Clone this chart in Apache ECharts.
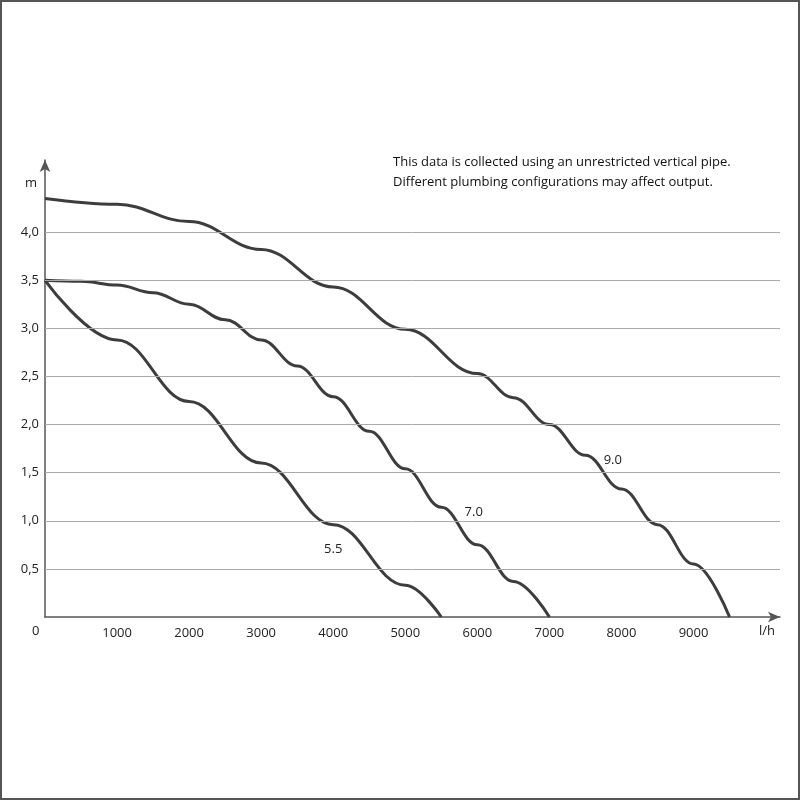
<!DOCTYPE html>
<html><head><meta charset="utf-8">
<script src="https://cdn.jsdelivr.net/npm/echarts@6/dist/echarts.min.js"></script>
<style>
html,body{margin:0;padding:0;background:#fff;}
#frame{position:absolute;left:0;top:0;width:796px;height:796px;border:2px solid #555;}
#chart{width:796px;height:796px;}
</style></head>
<body><div id="frame"><div id="chart"></div></div>
<script>
// pump curves (flow l/h, head m)
var curve55 = [[0,3.5],[1000,2.88],[2000,2.24],[3000,1.6],[4000,0.96],[5000,0.33],[5500,0]];
var curve70 = [[0,3.5],[500,3.49],[1000,3.45],[1500,3.37],[2000,3.25],[2500,3.09],[3000,2.88],[3500,2.61],[4000,2.29],[4500,1.93],[5000,1.54],[5500,1.14],[6000,0.75],[6500,0.37],[7000,0]];
var curve90 = [[0,4.35],[1000,4.29],[2000,4.11],[3000,3.82],[4000,3.43],[5000,2.99],[6000,2.53],[6500,2.28],[7000,2.0],[7500,1.68],[8000,1.33],[8500,0.96],[9000,0.55],[9500,0]];
var curveNames = ['5.5','7.0','9.0'];
var labelPos = [[4000,0.7],[5950,1.09],[7880,1.63]];
var gridValues = [0.5,1.0,1.5,2.0,2.5,3.0,3.5,4.0];

var chart = echarts.init(document.getElementById('chart'));
var lineColor = '#3d3d3d';
var font = 'Open Sans';

function mkSeries(data, i){
  return {
    type:'line', data:data, smooth:0.4, smoothMonotone:'x', symbol:'none',
    lineStyle:{color:lineColor,width:3},
    markPoint:{symbolSize:0, data:[{coord:labelPos[i]}],
      label:{show:true,formatter:curveNames[i],color:'#222',fontFamily:font,fontSize:13}}
  };
}
var series = [mkSeries(curve55,0), mkSeries(curve70,1), mkSeries(curve90,2)];
series.unshift({
  type:'line', data:[], silent:true,
  markLine:{symbol:'none', silent:true, label:{show:false},
    lineStyle:{color:'#aaa',width:1,type:'solid'},
    data:gridValues.map(function(v){return {yAxis:v};})}
});

chart.setOption({
  animation:false,
  grid:{left:43,right:18,top:158,bottom:181},
  xAxis:{type:'value',min:0,max:10200,interval:1000,
    axisLine:{lineStyle:{color:'#555',width:1.5},symbol:['none','arrow'],symbolSize:[8,12]},
    axisTick:{show:false}, splitLine:{show:false},
    axisLabel:{color:'#222',fontFamily:font,fontSize:13,margin:10,
      formatter:function(v){return (v>0&&v<10000)?String(v):'';}},
    name:'', 
  },
  yAxis:{type:'value',min:0,max:4.75,interval:0.5,
    axisLine:{show:true,lineStyle:{color:'#555',width:1.5},symbol:['none','arrow'],symbolSize:[8,12]},
    axisTick:{show:false}, splitLine:{show:false},
    axisLabel:{color:'#222',fontFamily:font,fontSize:13,margin:6,
      formatter:function(v){return (v>0&&v<=4)?v.toFixed(1).replace('.',','):'';}},
    name:'m', nameLocation:'end', nameGap:-30,
    nameTextStyle:{color:'#222',fontFamily:font,fontSize:13,align:'right',padding:[0,8,0,0]}
  },
  graphic:[
    {type:'text',left:30,top:623,style:{text:'0',fill:'#222',font:'13px "Open Sans"'}},
    {type:'text',left:757,top:623,style:{text:'l/h',fill:'#222',font:'13px "Open Sans"'}},
    {type:'text',left:391,top:150,style:{text:'This data is collected using an unrestricted vertical pipe.\nDifferent plumbing configurations may affect output.',
      fill:'#111',font:'13px "Open Sans"',lineHeight:20}}
  ],
  series:series
});
</script></body></html>
